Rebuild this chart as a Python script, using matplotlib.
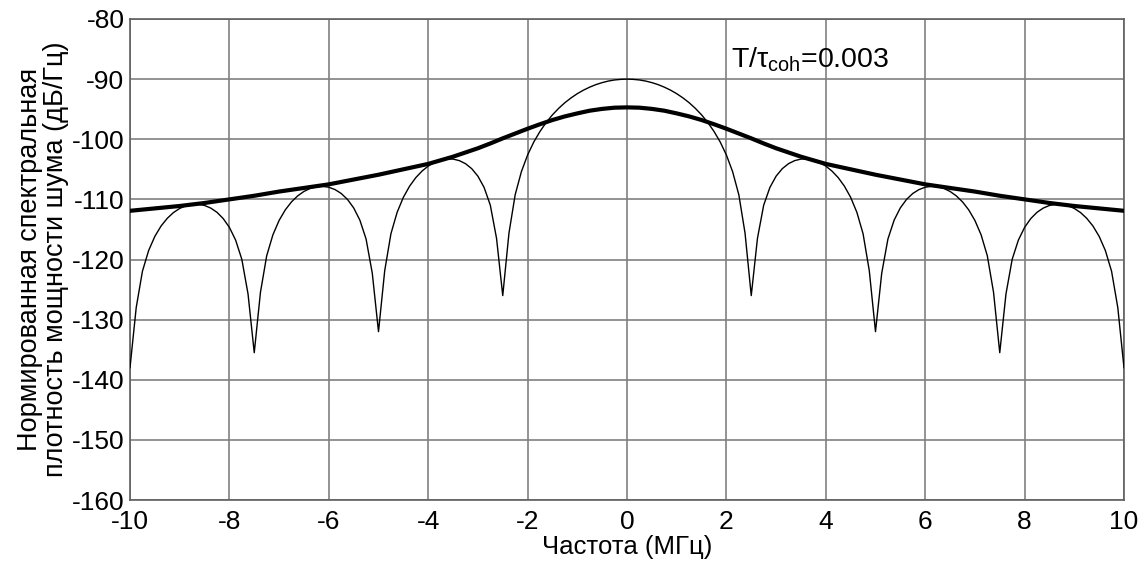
import numpy as np
import matplotlib.pyplot as plt

plt.rcParams['font.family'] = ['Liberation Sans', 'DejaVu Sans']
plt.rcParams['mathtext.fontset'] = 'custom'
plt.rcParams['mathtext.rm'] = 'Liberation Sans'
plt.rcParams['mathtext.it'] = 'Liberation Sans'
plt.rcParams['axes.unicode_minus'] = False

# single-pulse spectrum, positive half, sampled every 0.125 MHz (dB/Hz)
f_pulse = np.arange(0, 10.001, 0.125)
s_pulse = [-90.0, -90.04, -90.14, -90.32, -90.58, -90.91, -91.33, -91.83,
           -92.42, -93.12, -93.92, -94.86, -95.94, -97.20, -98.69, -100.45,
           -102.62, -105.39, -109.23, -115.61, -126.0, -116.48, -110.97,
           -108.02, -106.14, -104.89, -104.06, -103.55, -103.30, -103.28,
           -103.46, -103.86, -104.46, -105.30, -106.39, -107.81, -109.66,
           -112.15, -115.72, -121.86, -132.0, -122.29, -116.59, -113.45,
           -111.41, -110.00, -109.02, -108.37, -107.98, -107.83, -107.90,
           -108.18, -108.68, -109.41, -110.41, -111.74, -113.50, -115.90,
           -119.39, -125.45, -135.5, -125.74, -119.97, -116.77, -114.66,
           -113.19, -112.15, -111.45, -111.01, -110.81, -110.82, -111.06,
           -111.51, -112.19, -113.15, -114.43, -116.15, -118.51, -121.96,
           -127.99, -138.0]

# averaged noise spectrum, positive half
f_noise = [0, 0.25, 0.5, 0.75, 1.0, 1.25, 1.5, 1.75, 2.0, 2.25, 2.5, 2.75,
           3.0, 3.25, 3.5, 3.75, 4.0, 4.5, 5.0, 5.5, 6.0, 6.5, 7.0, 7.5,
           8.0, 8.5, 9.0, 9.5, 10.0]
s_noise = [-94.7, -94.75, -94.95, -95.25, -95.7, -96.2, -96.8, -97.5,
           -98.25, -99.05, -99.85, -100.7, -101.5, -102.2, -102.9, -103.5,
           -104.1, -105.0, -105.9, -106.7, -107.5, -108.1, -108.7, -109.4,
           -110.0, -110.6, -111.1, -111.5, -111.9]


def mirror(f, s):
    f = np.asarray(f, dtype=float)
    s = np.asarray(s, dtype=float)
    return np.concatenate([-f[:0:-1], f]), np.concatenate([s[:0:-1], s])


fp, sp = mirror(f_pulse, s_pulse)
fn, sn = mirror(f_noise, s_noise)

fig = plt.figure(figsize=(11.45, 5.63), dpi=100)
ax = fig.add_axes([130 / 1145, 63 / 563, 994 / 1145, 481 / 563])

ax.plot(fp, sp, color='black', lw=1.0, zorder=3)
ax.plot(fn, sn, color='black', lw=3.0, zorder=4,
        solid_joinstyle='round')

ax.set_xlim(-10, 10)
ax.set_ylim(-160, -80)
ax.set_xticks(np.arange(-10, 11, 2))
ax.set_yticks(np.arange(-160, -79, 10))
ax.grid(True, color='#808080', lw=1.2)
ax.set_axisbelow(True)
for spine in ax.spines.values():
    spine.set_color('#606060')
    spine.set_linewidth(1.2)
ax.tick_params(length=0, labelsize=19)
ax.tick_params(axis='x', pad=7)
ax.tick_params(axis='y', pad=4)

ax.set_xlabel('Частота (МГц)', fontsize=18.5, labelpad=1)
ax.set_ylabel('Нормированная спектральная\nплотность мощности шума (дБ/Гц)',
              fontsize=19.5, labelpad=2, linespacing=1.0)

ax.text(2.1, -88.0, r'T/$\tau_{\mathrm{coh}}$=0.003', fontsize=20.5)

fig.savefig('out.png', dpi=100)
